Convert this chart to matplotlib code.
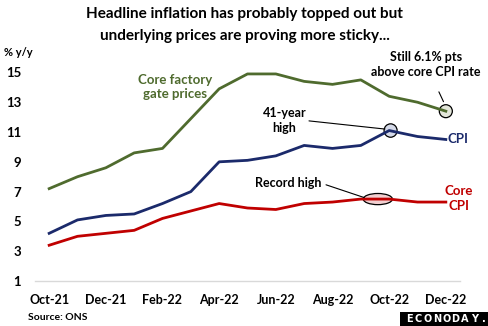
import matplotlib.pyplot as plt
from matplotlib.patches import Ellipse, Rectangle

plt.rcParams['font.family'] = ['Lato', 'DejaVu Sans']

months = ["Oct-21", "Nov-21", "Dec-21", "Jan-22", "Feb-22", "Mar-22", "Apr-22",
          "May-22", "Jun-22", "Jul-22", "Aug-22", "Sep-22", "Oct-22", "Nov-22", "Dec-22"]
factory_gate = [7.2, 8.0, 8.6, 9.6, 9.9, 11.9, 13.9, 14.9, 14.9, 14.4, 14.2, 14.5, 13.4, 13.0, 12.4]
cpi = [4.2, 5.1, 5.4, 5.5, 6.2, 7.0, 9.0, 9.1, 9.4, 10.1, 9.9, 10.1, 11.1, 10.7, 10.5]
core_cpi = [3.4, 4.0, 4.2, 4.4, 5.2, 5.7, 6.2, 5.9, 5.8, 6.2, 6.3, 6.5, 6.5, 6.3, 6.3]
yticks = [1, 3, 5, 7, 9, 11, 13, 15]

GREEN = "#4f6b2e"
NAVY = "#1b2a6b"
RED = "#c00000"

fig = plt.figure(figsize=(4.89, 3.26), dpi=100)
ax = fig.add_axes([35 / 489, 45 / 326, 425 / 489, 216 / 326])

x = list(range(len(months)))
ax.plot(x, factory_gate, color=GREEN, lw=2, zorder=3)
ax.plot(x, cpi, color=NAVY, lw=2, zorder=3)
ax.plot(x, core_cpi, color=RED, lw=2, zorder=3)

ax.set_xlim(-0.5, 14.5)
ax.set_ylim(1, 15.5)
ax.set_yticks(yticks)
ax.set_yticklabels([str(v) for v in yticks], fontsize=9.5, fontweight="bold")
ax.set_xticks(x[::2])
ax.set_xticklabels(months[::2], fontsize=9, fontweight="bold")
ax.tick_params(length=0, pad=9)
ax.tick_params(axis="y", pad=10)
for s in ["top", "right", "left"]:
    ax.spines[s].set_visible(False)
ax.spines["bottom"].set_color("#d9d9d9")
ax.spines["bottom"].set_linewidth(1)

# highlight markers
ax.add_patch(Ellipse((14, factory_gate[14]), 0.46, 0.87, facecolor="#e3e6da",
                     edgecolor="black", lw=0.9, zorder=2))
ax.add_patch(Ellipse((12.05, cpi[12]), 0.46, 0.9, facecolor="#d5dae9",
                     edgecolor="black", lw=0.9, zorder=2))
ax.add_patch(Ellipse((11.6, 6.5), 1.03, 0.75, facecolor="#f2cfd0",
                     edgecolor="black", lw=0.9, zorder=2))

# annotations
ax.annotate("Still 6.1% pts\nabove core CPI rate", xy=(14, factory_gate[14] + 0.3),
            xytext=(13.3, 15.55), ha="center", va="center", fontsize=9,
            fontweight="bold", linespacing=1.3,
            arrowprops=dict(arrowstyle="-", color="black", lw=0.8,
                            shrinkA=9, shrinkB=4))
ax.annotate("41-year\nhigh", xy=(11.85, cpi[12] + 0.1), xytext=(8.3, 11.8),
            ha="center", va="center", fontsize=9, fontweight="bold",
            linespacing=1.3,
            arrowprops=dict(arrowstyle="-", color="black", lw=0.8,
                            shrinkA=0, shrinkB=0, relpos=(0.9, 0.5)))
ax.annotate("Record high", xy=(11.12, 6.6), xytext=(7.28, 7.55),
            ha="left", va="center", fontsize=9, fontweight="bold",
            arrowprops=dict(arrowstyle="-", color="black", lw=0.8,
                            shrinkA=1, shrinkB=0, relpos=(1, 0.5)))

ax.text(4.45, 14.0, "Core factory\ngate prices", color=GREEN, fontsize=9.5,
        fontweight="bold", ha="center", va="center", linespacing=1.2)
ax.text(14.05, cpi[14] + 0.05, "CPI", color=NAVY, fontsize=9.5, fontweight="bold",
        ha="left", va="center")
ax.text(14.45, 6.55, "Core\nCPI", color=RED, fontsize=9.5, fontweight="bold",
        ha="center", va="center", linespacing=1.25)

fig.text(0.5, 1 - 14 / 326, "Headline inflation has probably topped out but",
         ha="center", va="center", fontsize=11, fontweight="bold")
fig.text(0.5, 1 - 36 / 326, "underlying prices are proving more sticky...",
         ha="center", va="center", fontsize=11, fontweight="bold")
fig.text(4 / 489, 1 - 52 / 326, "% y/y", fontsize=8, fontweight="bold",
         ha="left", va="center")
fig.text(28 / 489, 1 - 318 / 326, "Source: ONS", fontsize=7.5, fontweight="bold",
         ha="left", va="center")

# logo box with spaced letters
fig.patches.append(Rectangle((400 / 489, 0), 89 / 489, 14 / 326,
                             transform=fig.transFigure, facecolor="black",
                             edgecolor="none"))
for i, ch in enumerate("ECONODAY."):
    fig.text((409 + i * 9.3) / 489, 7.5 / 326, ch, color="white", fontsize=7,
             fontweight="bold", ha="center", va="center", family="DejaVu Sans")

fig.savefig("out.png", dpi=100)
